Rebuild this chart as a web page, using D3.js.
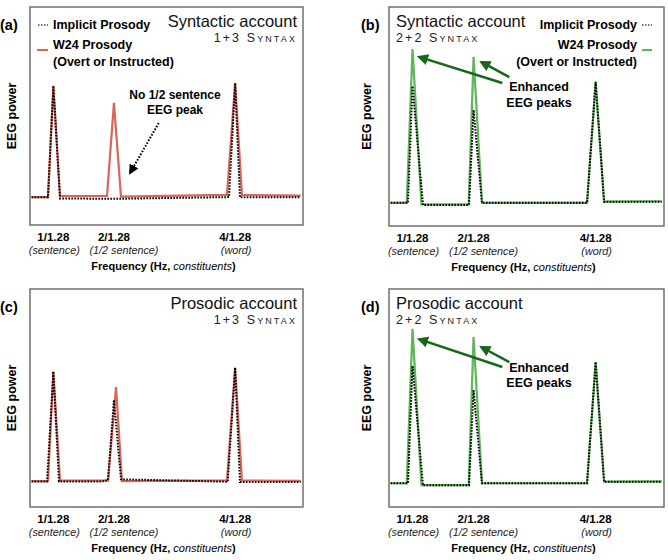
<!DOCTYPE html>
<html><head><meta charset="utf-8">
<script src="https://cdn.jsdelivr.net/npm/d3@7"></script>
<style>
html,body{margin:0;padding:0;background:#fff;}
svg{display:block;font-family:Helvetica, Arial, "Liberation Sans", sans-serif;}
</style>
</head><body>
<svg id="chart" width="668" height="560"></svg>
<script>
// ---------- data ----------
const panelLabels = ["(a)", "(b)", "(c)", "(d)"];
const accountTitles = ["Syntactic account", "Syntactic account", "Prosodic account", "Prosodic account"];
const syntaxLabels = ["1+3 Syntax", "2+2 Syntax", "1+3 Syntax", "2+2 Syntax"];
const legendLabels = ["Implicit Prosody", "W24 Prosody", "(Overt or Instructed)"];
const tickFreqs = [1 / 1.28, 2 / 1.28, 4 / 1.28];
const tickLabels = ["1/1.28", "2/1.28", "4/1.28"];
const tickSubLabels = ["(sentence)", "(1/2 sentence)", "(word)"];
const xTitleBold = "Frequency (Hz, ";
const xTitleItalic = "constituents";
const yTitle = "EEG power";
const annotationA = ["No 1/2 sentence", "EEG peak"];
const annotationBD = ["Enhanced", "EEG peaks"];
const freqDomain = [0.48, 4.0];

// panel (a) Syntactic, 1+3
const aImplicitFreq  = [0.50, 0.712, 0.78125, 0.867, 1.55, 3.046, 3.125, 3.187, 3.97];
const aImplicitPower = [0.127, 0.127, 0.638, 0.122, 0.120, 0.128, 0.651, 0.127, 0.127];
const aW24Freq  = [0.50, 0.712, 0.78125, 0.867, 1.473, 1.5625, 1.653, 3.02, 3.125, 3.213, 3.97];
const aW24Power = [0.128, 0.128, 0.638, 0.133, 0.133, 0.560, 0.130, 0.138, 0.651, 0.138, 0.135];
// panel (b) Syntactic, 2+2
const bImplicitFreq  = [0.50, 0.723, 0.78125, 0.915, 1.504, 1.5625, 1.67, 3.015, 3.125, 3.233, 3.97];
const bImplicitPower = [0.106, 0.106, 0.639, 0.096, 0.096, 0.530, 0.106, 0.106, 0.658, 0.111, 0.111];
const bW24Freq  = [0.50, 0.707, 0.78125, 0.895, 1.50, 1.5625, 1.67, 3.015, 3.125, 3.233, 3.97];
const bW24Power = [0.106, 0.106, 0.808, 0.099, 0.099, 0.772, 0.106, 0.106, 0.658, 0.111, 0.113];
// panel (c) Prosodic, 1+3
const cImplicitFreq  = [0.50, 0.700, 0.78125, 0.854, 1.408, 1.486, 1.5625, 1.653, 3.03, 3.125, 3.187, 3.97];
const cImplicitPower = [0.117, 0.117, 0.621, 0.117, 0.117, 0.124, 0.491, 0.127, 0.116, 0.639, 0.115, 0.115];
const cW24Freq  = [0.50, 0.712, 0.78125, 0.867, 1.486, 1.589, 1.666, 3.02, 3.125, 3.213, 3.97];
const cW24Power = [0.119, 0.119, 0.621, 0.121, 0.121, 0.550, 0.119, 0.122, 0.639, 0.122, 0.120];
// panel (d) Prosodic, 2+2
const dImplicitFreq  = [0.50, 0.723, 0.78125, 0.915, 1.504, 1.5625, 1.67, 3.015, 3.125, 3.233, 3.97];
const dImplicitPower = [0.109, 0.109, 0.647, 0.100, 0.100, 0.537, 0.109, 0.109, 0.665, 0.116, 0.116];
const dW24Freq  = [0.50, 0.707, 0.78125, 0.895, 1.50, 1.5625, 1.67, 3.015, 3.125, 3.233, 3.97];
const dW24Power = [0.109, 0.109, 0.817, 0.100, 0.100, 0.780, 0.109, 0.109, 0.665, 0.116, 0.118];

// ---------- layout / style ----------
const RED = "#d9655b", GREEN = "#5fb558", DARKGREEN = "#17661c";
const boxes = [
  {l: 30,  t: 7,   r: 303, b: 225},
  {l: 389, t: 7,   r: 664, b: 226},
  {l: 30,  t: 289, r: 303, b: 507},
  {l: 389, t: 289, r: 664, b: 507}
];
const panels = [
  {impF: aImplicitFreq, impP: aImplicitPower, w24F: aW24Freq, w24P: aW24Power, color: RED, right: false},
  {impF: bImplicitFreq, impP: bImplicitPower, w24F: bW24Freq, w24P: bW24Power, color: GREEN, right: true},
  {impF: cImplicitFreq, impP: cImplicitPower, w24F: cW24Freq, w24P: cW24Power, color: RED, right: false},
  {impF: dImplicitFreq, impP: dImplicitPower, w24F: dW24Freq, w24P: dW24Power, color: GREEN, right: true}
];
// annotation anchor points in data units (freq, power)
const arrowA = [[2.14, 0.468], [1.77, 0.239]];
const textA = [[2.35, 0.596], [2.35, 0.528]];
const arrowsB = [[[1.93, 0.653], [0.864, 0.772]], [[2.02, 0.68], [1.66, 0.749]]];
const textB = [[2.40, 0.635], [2.40, 0.562]];
const arrowsD = [[[1.93, 0.642], [0.864, 0.77]], [[2.02, 0.665], [1.66, 0.734]]];
const textD = [[2.40, 0.638], [2.40, 0.569]];

const svg = d3.select("#chart");
const defs = svg.append("defs");
defs.append("marker").attr("id", "headBlack").attr("viewBox", "0 0 10 10")
  .attr("refX", 8).attr("refY", 5).attr("markerWidth", 5).attr("markerHeight", 5)
  .attr("markerUnits", "strokeWidth").attr("orient", "auto")
  .append("path").attr("d", "M0,0 L10,5 L0,10 z").attr("fill", "#000");
defs.append("marker").attr("id", "headGreen").attr("viewBox", "0 0 10 10")
  .attr("refX", 8).attr("refY", 5).attr("markerWidth", 4.5).attr("markerHeight", 4.5)
  .attr("markerUnits", "strokeWidth").attr("orient", "auto")
  .append("path").attr("d", "M0,0 L10,5 L0,10 z").attr("fill", DARKGREEN);

panels.forEach((p, i) => {
  const bx = boxes[i];
  const g = svg.append("g");
  const x = d3.scaleLinear().domain(freqDomain).range([bx.l, bx.r]);
  const y = d3.scaleLinear().domain([0, 1]).range([bx.b, bx.t]);
  const line = d3.line().x(d => x(d[0])).y(d => y(d[1]));

  // frame
  g.append("rect").attr("x", bx.l).attr("y", bx.t).attr("width", bx.r - bx.l).attr("height", bx.b - bx.t)
    .attr("fill", "none").attr("stroke", "#666").attr("stroke-width", 1.4);

  // series
  g.append("path").datum(d3.zip(p.w24F, p.w24P)).attr("d", line)
    .attr("fill", "none").attr("stroke", p.color).attr("stroke-width", 2.2).attr("stroke-linejoin", "miter");
  g.append("path").datum(d3.zip(p.impF, p.impP)).attr("d", line)
    .attr("fill", "none").attr("stroke", "#000").attr("stroke-width", 2).attr("stroke-dasharray", "1.6,1.4");

  // panel label
  const labX = p.right ? bx.l - 28 : bx.l - 30;
  g.append("text").attr("x", labX).attr("y", bx.t + 18).attr("dominant-baseline", "central")
    .attr("font-weight", "bold").attr("font-size", 14.5).text(panelLabels[i]);

  // y title
  g.append("text").attr("transform", `translate(${bx.l - (p.right ? 22 : 18)},${(bx.t + bx.b) / 2}) rotate(-90)`)
    .attr("text-anchor", "middle").attr("dominant-baseline", "central")
    .attr("font-weight", "bold").attr("font-size", 12.5).text(yTitle);

  // titles
  const tAnchor = p.right ? "start" : "end";
  const tX = p.right ? bx.l + 7 : bx.r - 6;
  g.append("text").attr("x", tX).attr("y", bx.t + 14).attr("dominant-baseline", "central")
    .attr("text-anchor", tAnchor).attr("font-size", 16.5).attr("fill", "#111").text(accountTitles[i]);
  g.append("text").attr("x", tX).attr("y", bx.t + 31).attr("dominant-baseline", "central")
    .attr("text-anchor", tAnchor).attr("font-size", 12.5).attr("font-variant", "small-caps")
    .attr("letter-spacing", 2.1).attr("fill", "#222").text(syntaxLabels[i]);

  // legend (only top row)
  if (i < 2) {
    const lg = g.append("g").attr("font-weight", "bold").attr("font-size", 12.5);
    const sx = p.right ? bx.r - 22 : bx.l + 8;
    const tx = p.right ? bx.r - 27 : bx.l + 23;
    const anchor = p.right ? "end" : "start";
    lg.append("line").attr("x1", sx).attr("x2", sx + 10).attr("y1", bx.t + 18).attr("y2", bx.t + 18)
      .attr("stroke", "#444").attr("stroke-width", 1.5).attr("stroke-dasharray", "1.5,1.5");
    lg.append("line").attr("x1", sx - (p.right ? 0 : 1)).attr("x2", sx + 10).attr("y1", bx.t + 43).attr("y2", bx.t + 43)
      .attr("stroke", p.color).attr("stroke-width", 2);
    [18, 38, 55].forEach((dy, k) => {
      lg.append("text").attr("x", tx).attr("y", bx.t + dy).attr("dominant-baseline", "central")
        .attr("text-anchor", anchor).text(legendLabels[k]);
    });
  }

  // tick labels
  tickFreqs.forEach((f, k) => {
    g.append("text").attr("x", x(f)).attr("y", bx.b + 12).attr("dominant-baseline", "central")
      .attr("text-anchor", "middle").attr("font-weight", "bold").attr("font-size", 11.5).text(tickLabels[k]);
    g.append("text").attr("x", x(f) + (k === 1 ? 10 : 1)).attr("y", bx.b + 25).attr("dominant-baseline", "central")
      .attr("text-anchor", "middle").attr("font-style", "italic").attr("font-size", 10.8).attr("fill", "#222").text(tickSubLabels[k]);
  });
  const xt = g.append("text").attr("x", (bx.l + bx.r) / 2 - 3).attr("y", bx.b + 41).attr("dominant-baseline", "central")
    .attr("text-anchor", "middle").attr("font-size", 11);
  xt.append("tspan").attr("font-weight", "bold").text(xTitleBold);
  xt.append("tspan").attr("font-style", "italic").text(xTitleItalic);
  xt.append("tspan").attr("font-weight", "bold").text(")");

  // annotations
  if (i === 0) {
    textA.forEach((t, k) => {
      g.append("text").attr("x", x(t[0])).attr("y", y(t[1])).attr("dominant-baseline", "central")
        .attr("text-anchor", "middle").attr("font-weight", "bold").attr("font-size", 12).text(annotationA[k]);
    });
    g.append("line").attr("x1", x(arrowA[0][0])).attr("y1", y(arrowA[0][1]))
      .attr("x2", x(arrowA[1][0])).attr("y2", y(arrowA[1][1]))
      .attr("stroke", "#000").attr("stroke-width", 2).attr("stroke-dasharray", "1.6,1.6")
      .attr("marker-end", "url(#headBlack)");
  }
  if (i === 1 || i === 3) {
    const txt = i === 1 ? textB : textD;
    const arr = i === 1 ? arrowsB : arrowsD;
    txt.forEach((t, k) => {
      g.append("text").attr("x", x(t[0])).attr("y", y(t[1])).attr("dominant-baseline", "central")
        .attr("text-anchor", "middle").attr("font-weight", "bold").attr("font-size", 12.5).text(annotationBD[k]);
    });
    arr.forEach(a => {
      g.append("line").attr("x1", x(a[0][0])).attr("y1", y(a[0][1])).attr("x2", x(a[1][0])).attr("y2", y(a[1][1]))
        .attr("stroke", DARKGREEN).attr("stroke-width", 2.5).attr("marker-end", "url(#headGreen)");
    });
  }
});
</script>
</body></html>
